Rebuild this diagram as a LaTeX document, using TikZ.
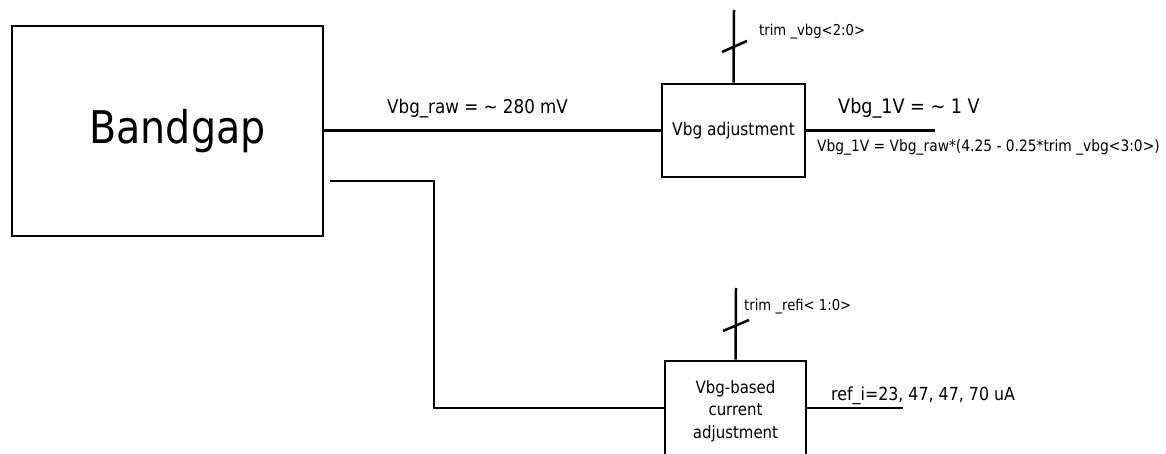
\documentclass[tikz,border=0pt]{standalone}
\usepackage{fontspec}
\setmainfont[FakeStretch=0.88]{DejaVu Sans}
\newcommand{\fsz}[1]{\fontsize{#1}{#1}\selectfont}
\begin{document}
\begin{tikzpicture}[x=1pt,y=-1pt,
  box/.style={draw, line width=2.8pt, inner sep=0pt, align=center},
  wire/.style={line width=2.5pt},
  slash/.style={line width=2.5pt},
  lab/.style={inner sep=0pt, anchor=west}]
\clip (0,0) rectangle (1166,454);
\fill[white] (0,0) rectangle (1166,454);
% blocks
\node[box, minimum width=311pt, minimum height=210pt, font=\fsz{45}] (bg) at (167.5,131) {\hspace*{20pt}Bandgap};
\node[box, minimum width=143pt, minimum height=93pt, font=\fsz{17.5}] (adj) at (733.5,130.5) {Vbg adjustment};
\node[box, minimum width=141pt, minimum height=100pt, font=\fontsize{17}{22.5}\selectfont] (cur) at (735.5,411) {Vbg-based\\current\\adjustment};
% coordinates
\coordinate (vtop) at (734,10);
\coordinate (vout) at (935,130.5);
\coordinate (cstart) at (330,181);
\coordinate (cbend) at (434,181);
\coordinate (ctop) at (736,288);
\coordinate (cout) at (903,408);
% connectors
\draw[wire] (bg.east |- adj.west) -- (adj.west);
\draw[wire] (vtop) -- (adj.north);
\draw[slash] (722,52) -- (747,41);
\draw[wire] (adj.east) -- (vout);
\draw[wire] (cstart) -- (cbend) |- (cur.west |- 0,408);
\draw[wire] (ctop) -- (cur.north);
\draw[slash] (723,331) -- (749,320);
\draw[wire] (cur.east |- cout) -- (cout);
% labels
\node[lab, font=\fsz{19}] (lraw) at (387,109) {Vbg\_raw = \textasciitilde{} 280 mV};
\node[lab, font=\fsz{15}] (ltv) at (759,32) {trim \_vbg<2:0>};
\node[lab, font=\fsz{20}] (l1v) at (838,108) {Vbg\_1V = \textasciitilde{} 1 V};
\node[lab, font=\fsz{15.7}] (lf) at (817,147) {Vbg\_1V = Vbg\_raw*(4.25 - 0.25*trim \_vbg<3:0>)};
\node[lab, font=\fsz{15}] (ltr) at (744,307) {trim \_refi< 1:0>};
\node[lab, font=\fsz{18}] (lri) at (831,396) {ref\_i=23, 47, 47, 70 uA};
\end{tikzpicture}
\end{document}
